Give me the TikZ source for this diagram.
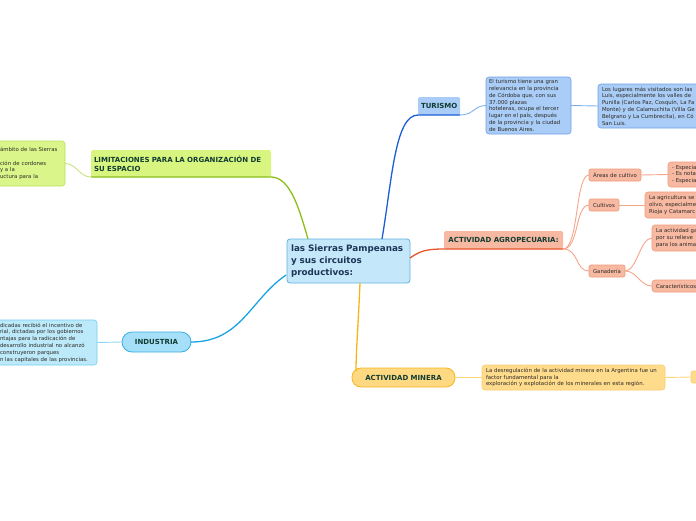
\documentclass[tikz,border=0pt]{standalone}
\usepackage{fontspec}
\setmainfont{DejaVu Sans}
\usetikzlibrary{calc}
\definecolor{cenfill}{HTML}{C4E8F9}
\definecolor{cenbord}{HTML}{62B0E0}
\definecolor{centext}{HTML}{1D3557}
\definecolor{headtext}{HTML}{113C33}
\definecolor{smalltext}{HTML}{2E2A26}
\definecolor{limfill}{HTML}{D8F57F}
\definecolor{limline}{HTML}{8BBF1A}
\definecolor{limfill2}{HTML}{DAF68A}
\definecolor{limbord2}{HTML}{B8E05E}
\definecolor{limline2}{HTML}{C6E47B}
\definecolor{turfill}{HTML}{A9CDF6}
\definecolor{turline}{HTML}{1A5FD6}
\definecolor{turbord2}{HTML}{6E9EE6}
\definecolor{turline2}{HTML}{7FB0EE}
\definecolor{agrfill}{HTML}{F7B9A2}
\definecolor{agrline}{HTML}{E9552A}
\definecolor{agrbord2}{HTML}{F19A7C}
\definecolor{agrline2}{HTML}{F5A58A}
\definecolor{indfill}{HTML}{A6E0F8}
\definecolor{indbord}{HTML}{38ACE3}
\definecolor{indline}{HTML}{1BA3E2}
\definecolor{indfill2}{HTML}{BDEAFB}
\definecolor{indbord2}{HTML}{74CCF0}
\definecolor{indline2}{HTML}{8ED5F3}
\definecolor{minfill}{HTML}{FFD982}
\definecolor{minbord}{HTML}{F6B520}
\definecolor{minline}{HTML}{F7B417}
\definecolor{minfill2}{HTML}{FFDB8C}
\definecolor{minbord2}{HTML}{F9CD75}
\definecolor{minline2}{HTML}{FFD57A}
\begin{document}
\begin{tikzpicture}[x=1pt,y=-1pt,
  base/.style={anchor=north west, inner ysep=0pt, outer sep=0pt},
  central/.style={base, fill=cenfill, draw=cenbord, line width=0.8pt, rounded corners=3pt,
     inner xsep=4pt, align=left, text=centext, font=\fontsize{8.8}{12}\bfseries\selectfont},
  head/.style={base, rounded corners=1.5pt, inner xsep=3pt, align=center, text=headtext,
     font=\fontsize{7}{8.6}\bfseries\selectfont},
  pill/.style={base, line width=0.8pt, rounded corners=9pt, inner xsep=3pt, align=center,
     text=headtext, font=\fontsize{7}{8.6}\bfseries\selectfont},
  txt/.style={base, line width=0.6pt, rounded corners=3pt, inner xsep=4pt, align=left,
     text=smalltext, font=\fontsize{5.4}{6.8}\selectfont},
  tag/.style={base, line width=0.6pt, rounded corners=2pt, inner xsep=2pt, align=center,
     text=smalltext, font=\fontsize{5.4}{6.8}\selectfont},
  mainline/.style={line width=1.3pt},
  subline/.style={line width=0.9pt}]
\useasboundingbox (0,0) rectangle (696,520);
\clip (0,0) rectangle (696,520);

% central
\node[central, minimum width=123, minimum height=44, text width=115] (c) at (287,239)
  {las Sierras Pampeanas\\y sus circuitos\\productivos:};

% limitaciones
\node[head, fill=limfill, minimum width=180, minimum height=27, text width=174, align=left] (lim) at (91,150)
  {LIMITACIONES PARA LA ORGANIZACIÓN DE\\SU ESPACIO};
\node[txt, fill=limfill2, draw=limbord2, inner xsep=6pt, minimum width=71, minimum height=45, text width=59] (limL) at (-6,141)
  {ámbito de las Sierras\\[6.8pt]ción de cordones\\y a la\\uctura para la};

% turismo
\node[head, fill=turfill, minimum width=42, minimum height=18, text width=36] (tur) at (418,97) {TURISMO};
\node[txt, fill=turfill, draw=turbord2, inner xsep=3pt, minimum width=85, minimum height=57, text width=79] (tur1) at (486,77)
  {El turismo tiene una gran\\relevancia en la provincia\\de Córdoba que, con sus\\37.000 plazas\\hoteleras, ocupa el tercer\\lugar en el país, después\\de la provincia y la ciudad\\de Buenos Aires.};
\node[txt, fill=turfill, draw=turbord2, minimum width=140, minimum height=44, text width=132] (tur2) at (598,84)
  {Los lugares más visitados son las\\Luis, especialmente los valles de\\Punilla (Carlos Paz, Cosquín, La Fa\\Monte) y de Calamuchita (Villa Ge\\Belgrano y La Cumbrecita), en Có\\San Luis.};

% agropecuaria
\node[head, fill=agrfill, minimum width=119, minimum height=18, text width=113] (agro) at (444,231) {ACTIVIDAD AGROPECUARIA:};
\node[tag, fill=agrfill, draw=agrbord2, minimum width=52, minimum height=12, text width=48] (areas) at (589,169) {Áreas de cultivo};
\node[tag, fill=agrfill, draw=agrbord2, minimum width=30, minimum height=12, text width=26] (cult) at (589,199) {Cultivos};
\node[tag, fill=agrfill, draw=agrbord2, minimum width=36, minimum height=12, text width=32] (gan) at (589,265) {Ganadería};
\node[txt, fill=agrfill, draw=agrbord2, minimum width=60, minimum height=25, text width=52] (areasT) at (668,162)
  {- Especia\\- Es nota\\- Especia};
\node[txt, fill=agrfill, draw=agrbord2, minimum width=80, minimum height=26, text width=72] (cultT) at (645,192)
  {La agricultura se\\olivo, especialme\\Rioja y Catamarc};
\node[txt, fill=agrfill, draw=agrbord2, minimum width=80, minimum height=26, text width=72] (ganT1) at (652,225)
  {La actividad ga\\por su relieve\\para los anima};
\node[txt, fill=agrfill, draw=agrbord2, minimum width=80, minimum height=12, text width=72] (ganT2) at (652,280)
  {Característicos};

% industria
\node[pill, fill=indfill, draw=indbord, minimum width=69, minimum height=20, text width=63, rounded corners=10pt] (ind) at (122,332) {INDUSTRIA};
\node[txt, fill=indfill2, draw=indbord2, inner xsep=6pt, minimum width=103, minimum height=45, text width=91] (indT) at (-6,320)
  {dicadas recibió el incentivo de\\rial, dictadas por los gobiernos\\ntajas para la radicación de\\desarrollo industrial no alcanzó\\construyeron parques\\n las capitales de las provincias.};

% minera
\node[pill, fill=minfill, draw=minbord, minimum width=103, minimum height=19, text width=97] (min) at (352,368) {ACTIVIDAD MINERA};
\node[txt, fill=minfill2, draw=minbord2, minimum width=183, minimum height=25, text width=175] (minT) at (482,365)
  {La desregulación de la actividad minera en la Argentina fue un\\factor fundamental para la\\exploración y explotación de los minerales en esta región.};
\node[tag, fill=minfill2, draw=minbord2, minimum width=15, minimum height=12, text width=11] (minS) at (691,371) {};

% connectors
\draw[mainline, limline] ($(c.north west)+(21,0)$) .. controls ($(c.north west)+(13,-27)$) and ($(lim.south east)+(20,0)$) .. (lim.south east) -- (lim.south west);
\draw[subline, limline2] (lim.south west) .. controls +(-12,0) and +(12,0) .. (limL.east);

\draw[mainline, turline] ($(c.north west)+(95,0)$) .. controls ($(c.north west)+(105,-59)$) and ($(tur.south west)+(-23,0)$) .. (tur.south west) -- (tur.south east);
\draw[subline, turline2] (tur.south east) .. controls +(14,0) and +(-12,0) .. (tur1.west);
\draw[subline, turline2] (tur1.east) -- (tur2.west);

\draw[mainline, agrline] ($(c.north east)+(0,19)$) .. controls ($(c.north east)+(10,12)$) and ($(agro.south west)+(-18,0)$) .. (agro.south west) -- (agro.south east);
\draw[subline, agrline2] (agro.south east) .. controls +(16,0) and +(-14,0) .. (areas.west);
\draw[subline, agrline2] (agro.south east) .. controls +(16,0) and +(-14,0) .. (cult.west);
\draw[subline, agrline2] (agro.south east) .. controls +(16,0) and +(-14,0) .. (gan.west);
\draw[subline, agrline2] (areas.east) -- (areasT.west);
\draw[subline, agrline2] (cult.east) -- (cultT.west);
\draw[subline, agrline2] (gan.east) .. controls +(12,0) and +(-12,0) .. (ganT1.west);
\draw[subline, agrline2] (gan.east) .. controls +(12,0) and +(-12,0) .. (ganT2.west);

\draw[mainline, indline] ($(c.south west)+(-1,-8)$) .. controls +(-36,25) and +(50,0) .. (ind.east);
\draw[subline, indline2] (ind.west) -- (indT.east);

\draw[mainline, minline] ($(c.south west)+(73,0)$) .. controls +(-2,47) and +(0,-20) .. ($(min.north west)+(4,3)$);
\draw[subline, minline2] (min.east) -- (minT.west);
\draw[subline, minline2] (minT.east) -- (minS.west);
\end{tikzpicture}
\end{document}
